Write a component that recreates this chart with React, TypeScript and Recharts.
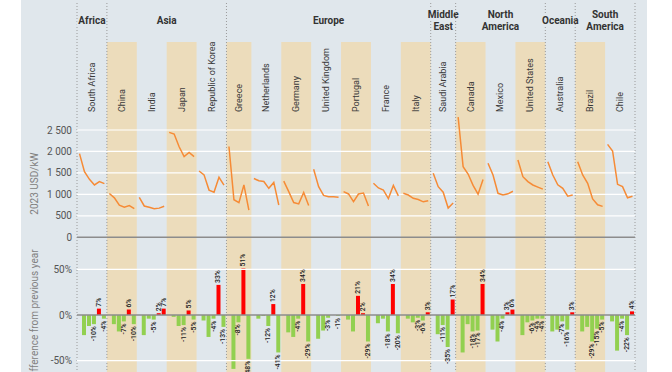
import {
  ComposedChart, Bar, Line, XAxis, YAxis, ReferenceArea, ReferenceLine, LabelList, Cell,
} from "recharts";

const countries = [
  "South Africa", "China", "India", "Japan", "Republic of Korea", "Greece", "Netherlands",
  "Germany", "United Kingdom", "Portugal", "France", "Italy", "Saudi Arabia", "Canada",
  "Mexico", "United States", "Australia", "Brazil", "Chile",
];
const regionNames = [["Africa"], ["Asia"], ["Europe"], ["Middle", "East"], ["North", "America"], ["Oceania"], ["South", "America"]];
const regionSizes = [1, 4, 7, 1, 3, 1, 2];

// installed cost, 2023 USD/kW
const costs = [
  [1950, 1530, 1350, 1220, 1300, 1250],
  [1020, 920, 750, 700, 740, 670],
  [930, 730, 700, 665, 680, 725],
  [2445, 2405, 2110, 1880, 1975, 1880],
  [1545, 1455, 1100, 1052, 1400, 1218],
  [2115, 875, 808, 1220, 632],
  [1370, 1320, 1300, 1141, 1278, 753],
  [1310, 1065, 810, 778, 1043, 740],
  [1585, 1180, 975, 946, 944, 935],
  [1065, 1010, 833, 1008, 1030, 730],
  [1258, 1150, 1100, 902, 1209, 967],
  [1025, 985, 908, 880, 827, 852],
  [1490, 1180, 1050, 683, 800],
  [2800, 1646, 1475, 1210, 1005, 1345],
  [1724, 1452, 1025, 984, 1013, 1074],
  [1801, 1413, 1297, 1219, 1170, 1123],
  [1760, 1452, 1225, 1140, 958, 987],
  [1762, 1452, 1258, 893, 759, 721],
  [2166, 2011, 1234, 1182, 920, 957],
];

// difference from previous year, %
const changes = [
  [-22, -12, -10, 7, -4],
  [-10, -18, -7, 6, -10],
  [-22, -4, -5, 2, 7],
  [-2, -12, -11, 5, -5],
  [-6, -24, -4, 33, -13],
  [-59, -8, 51, -48],
  [-4, -1, -12, 12, -41],
  [-19, -24, -4, 34, -29],
  [-26, -17, -3, 0, -1],
  [-5, -18, 21, 2, -29],
  [-9, -4, -18, 34, -20],
  [-4, -8, -3, -6, 3],
  [-21, -11, -35, 17],
  [-41, -10, -18, -17, 34],
  [-16, -29, -4, 3, 6],
  [-22, -8, -6, -4, -4],
  [-18, -16, -7, -16, 3],
  [-18, -13, -29, -15, -5],
  [-7, -39, -4, -22, 4],
];

const costTicks = [0, 500, 1000, 1500, 2000, 2500];
const pctTicks = [-50, 0, 50];

const BG = "#e0e7ec";
const TAN = "#ecdcbb";
const ORANGE = "#f68b36";
const GREEN = "#92d050";
const RED = "#ff0000";
const FONT = "Roboto, sans-serif";

type Row = { slot: number; costA: number | null; costB: number | null; change: number | null; tag: string | null };

const rows: Row[] = [];
const spans: { first: number; last: number }[] = [];
countries.forEach((_, c) => {
  const first = rows.length;
  costs[c].forEach((v, i) => {
    const ch = i > 0 ? changes[c][i - 1] : null;
    rows.push({
      slot: rows.length,
      costA: c % 2 === 0 ? v : null,
      costB: c % 2 === 1 ? v : null,
      change: ch,
      tag: ch !== null && i >= costs[c].length - 3 ? `${ch}%` : null,
    });
  });
  spans.push({ first, last: rows.length - 1 });
});

const regionSpans: { first: number; last: number }[] = [];
let ci = 0;
regionSizes.forEach((n) => {
  regionSpans.push({ first: spans[ci].first, last: spans[ci + n - 1].last });
  ci += n;
});

const fmtCost = (v: number) => (v >= 1000 ? `${Math.floor(v / 1000)} ${String(v % 1000).padStart(3, "0")}` : String(v));

// tick text drawn at the left end of each grid line
const tickText = (text: string) => (p: any) => {
  const { x, y } = p.viewBox;
  return (
    <text x={x - 5} y={y} textAnchor="end" dominantBaseline="central" fontSize={10} fill="#555" fontFamily={FONT}>{text}</text>
  );
};

const countryLabel = (name: string) => (p: any) => {
  const { x, y, width } = p.viewBox;
  const cx = x + width / 2;
  const ty = y + 70;
  return (
    <text x={cx} y={ty} transform={`rotate(-90 ${cx} ${ty})`} textAnchor="start" dominantBaseline="central"
      fontSize={9} fill="#3a3a3a" fontFamily={FONT}>{name}</text>
  );
};

const axisTitle = (title: string) => (p: any) => {
  const { x, y, height } = p.viewBox;
  const tx = x - 42;
  const ty = y + height / 2;
  return (
    <text x={tx} y={ty} transform={`rotate(-90 ${tx} ${ty})`} textAnchor="middle" dominantBaseline="central"
      fontSize={10} fill="#808080" fontFamily={FONT}>{title}</text>
  );
};

const regionShape = (lines: string[], last: boolean) => (p: any) => {
  const { x, y, width, height } = p;
  const cx = x + width / 2;
  return (
    <g>
      <line x1={x} y1={y} x2={x} y2={y + height} stroke="#9a9a9a" strokeDasharray="1 2" />
      {last && <line x1={x + width} y1={y} x2={x + width} y2={y + height} stroke="#9a9a9a" strokeDasharray="1 2" />}
      {lines.map((t, i) => (
        <text key={t} x={cx} y={lines.length === 1 ? 20 : 14 + i * 12} textAnchor="middle" dominantBaseline="central"
          fontSize={10} fontWeight="bold" fill="#333" fontFamily={FONT}
          stroke={BG} strokeWidth={3} paintOrder="stroke">{t}</text>
      ))}
    </g>
  );
};

const BarTag = (p: any) => {
  if (p.value == null) return null;
  const vb = p.viewBox ?? p;
  const top = Math.min(vb.y, vb.y + vb.height);
  const bottom = Math.max(vb.y, vb.y + vb.height);
  const cx = vb.x + vb.width / 2;
  const neg = String(p.value).startsWith("-");
  const ty = neg ? bottom + 2 : top - 2;
  return (
    <text x={cx} y={ty} transform={`rotate(-90 ${cx} ${ty})`} textAnchor={neg ? "end" : "start"}
      dominantBaseline="central" fontSize={6.8} fontWeight={500} fill="#222" fontFamily={FONT}>{p.value}</text>
  );
};

export default function App() {
  return (
    <div style={{ position: "absolute", left: 0, top: 0, width: 672, height: 372, overflow: "hidden", background: "#fff" }}>
      <div style={{ position: "absolute", left: 21, top: 0, width: 626, height: 372, background: BG }} />
      <div style={{ position: "absolute", left: 0, top: 0 }}>
        <ComposedChart width={672} height={372} data={rows} margin={{ top: 0, right: 37, bottom: 0, left: 77 }}>
          <XAxis dataKey="slot" type="category" hide />
          <YAxis yAxisId="frame" hide type="number" domain={[0, 372]} reversed allowDataOverflow />
          <YAxis yAxisId="cost" hide type="number" domain={[-3138, 5529]} allowDataOverflow />
          <YAxis yAxisId="pct" hide type="number" domain={[-62.4, 345]} allowDataOverflow />

          {spans.map((s, c) => (
            <ReferenceArea key={countries[c]} yAxisId="frame" x1={s.first} x2={s.last} y1={42} y2={372}
              fill={c % 2 === 1 ? TAN : "none"} fillOpacity={1} stroke="none" label={{ content: countryLabel(countries[c]) }} />
          ))}

          {costTicks.map((t) => (
            <ReferenceLine key={`c${t}`} yAxisId="cost" y={t} stroke={t === 0 ? "#8c8c8c" : "#fff"}
              strokeWidth={t === 0 ? 1.6 : 1.2} label={{ content: tickText(fmtCost(t)) }} />
          ))}
          {pctTicks.map((t) => (
            <ReferenceLine key={`p${t}`} yAxisId="pct" y={t} stroke={t === 0 ? "#8c8c8c" : "#fff"}
              strokeWidth={t === 0 ? 1.6 : 1.2} label={{ content: tickText(`${t}%`) }} />
          ))}

          <ReferenceArea yAxisId="cost" x1={0} x2={0} y1={0} y2={2500} fill="none" stroke="none"
            label={{ content: axisTitle("2023 USD/kW") }} />
          <ReferenceArea yAxisId="pct" x1={0} x2={0} y1={-50} y2={50} fill="none" stroke="none"
            label={{ content: axisTitle("Difference from previous year") }} />

          {regionSpans.map((r, i) => (
            <ReferenceArea key={regionNames[i].join(" ")} yAxisId="frame" x1={r.first} x2={r.last} y1={3} y2={372}
              shape={regionShape(regionNames[i], i === regionSpans.length - 1)} />
          ))}

          <Bar yAxisId="pct" dataKey="change" barSize={4} isAnimationActive={false}>
            {rows.map((r) => (
              <Cell key={r.slot} fill={r.change !== null && r.change >= 0 ? RED : GREEN} />
            ))}
            <LabelList dataKey="tag" content={BarTag} />
          </Bar>
          <Line yAxisId="cost" dataKey="costA" stroke={ORANGE} strokeWidth={1.5} dot={false} connectNulls={false} isAnimationActive={false} />
          <Line yAxisId="cost" dataKey="costB" stroke={ORANGE} strokeWidth={1.5} dot={false} connectNulls={false} isAnimationActive={false} />
        </ComposedChart>
      </div>
    </div>
  );
}
